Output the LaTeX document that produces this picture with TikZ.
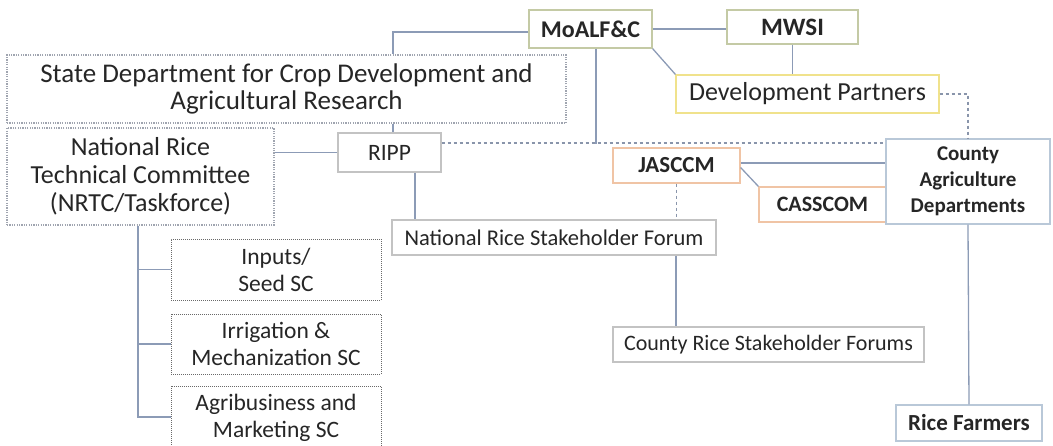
\documentclass[tikz,border=0pt]{standalone}
\usepackage{fontspec}
\setmainfont{Carlito}
\usetikzlibrary{calc}
\definecolor{lnc}{RGB}{140,155,182}
\definecolor{txt}{RGB}{38,38,38}
\definecolor{olv}{RGB}{196,202,165}
\definecolor{ylw}{RGB}{240,226,140}
\definecolor{org}{RGB}{240,196,165}
\definecolor{blu}{RGB}{185,200,216}
\definecolor{gry}{RGB}{195,195,195}
\definecolor{dgry}{RGB}{160,165,176}
\definecolor{sgry}{RGB}{105,105,105}
\tikzset{
  box/.style={draw, line width=1.2pt, inner sep=0pt, align=center, text=txt, fill=white},
  olvbox/.style={box, draw=olv},
  ylwbox/.style={box, draw=ylw},
  orgbox/.style={box, draw=org},
  blubox/.style={box, draw=blu},
  grybox/.style={box, draw=gry},
  dotbox/.style={box, draw=dgry, dash pattern=on 1.2pt off 1.2pt},
  scbox/.style={box, draw=sgry, line width=1pt, dash pattern=on 1pt off 1pt},
  conn/.style={draw=lnc, line width=1.3pt},
  dconn/.style={draw=lnc!80!gray, line width=1.3pt, dash pattern=on 3pt off 3pt},
}
\begin{document}
\begin{tikzpicture}[x=1pt,y=-1pt]
\useasboundingbox (0,0) rectangle (1053,445);
\coordinate (j1) at (596,144);
% nodes
\node[olvbox, minimum width=123pt, minimum height=38pt, font=\fontsize{24}{26}\selectfont\bfseries] (moalf) at (590.5,29) {MoALF\&C};
\node[olvbox, minimum width=131pt, minimum height=34pt, font=\fontsize{25}{26}\selectfont\bfseries] (mwsi) at (792.5,27) {MWSI};
\node[ylwbox, minimum width=263pt, minimum height=38pt, font=\fontsize{26}{28}\selectfont] (dp) at (807.5,94) {Development Partners};
\node[dotbox, minimum width=559pt, minimum height=68pt, font=\fontsize{27}{27}\selectfont] (sd) at (286.5,89) {State Department for Crop Development and\\Agricultural Research};
\node[dotbox, minimum width=267pt, minimum height=97pt, font=\fontsize{26}{28}\selectfont] (nrtc) at (140.5,176.5) {National Rice\\Technical Committee\\(NRTC/Taskforce)};
\node[grybox, minimum width=103pt, minimum height=39pt, font=\fontsize{23.5}{25}\selectfont] (ripp) at (389.5,152.5) {RIPP};
\node[orgbox, minimum width=127pt, minimum height=35pt, font=\fontsize{23}{25}\selectfont\bfseries] (jasccm) at (676.5,165.5) {JASCCM};
\node[orgbox, minimum width=127pt, minimum height=35pt, font=\fontsize{22}{25}\selectfont\bfseries] (cass) at (822.5,204.5) {CASSCOM};
\node[blubox, minimum width=164pt, minimum height=85pt, font=\fontsize{21}{26}\selectfont\bfseries] (cad) at (968,181.5) {County\\Agriculture\\Departments};
\node[grybox, minimum width=324pt, minimum height=35pt, font=\fontsize{22.5}{25}\selectfont] (nrsf) at (554,237.5) {National Rice Stakeholder Forum};
\node[scbox, minimum width=210pt, minimum height=61pt, font=\fontsize{23.5}{27}\selectfont] (s1) at (276,269.5) {Inputs/\\Seed SC};
\node[scbox, minimum width=210pt, minimum height=60pt, font=\fontsize{23.5}{27}\selectfont] (s2) at (276,344) {Irrigation \&\\Mechanization SC};
\node[scbox, minimum width=210pt, minimum height=64pt, font=\fontsize{23.5}{27}\selectfont] (s3) at (276,418) {Agribusiness and\\Marketing SC};
\node[grybox, minimum width=311pt, minimum height=35pt, font=\fontsize{22}{25}\selectfont] (crsf) at (768.5,344.5) {County Rice Stakeholder Forums};
\node[blubox, minimum width=146pt, minimum height=36pt, font=\fontsize{23}{25}\selectfont\bfseries] (rf) at (969,423) {Rice Farmers};
% connectors
\draw[conn] ([yshift=-3pt]moalf.west) -| (sd.north -| 393,0);
\draw[conn] (moalf.east) -- (moalf.east -| mwsi.west);
\draw[conn] (moalf.south east) -- (dp.north west);
\draw[conn] (mwsi.south) -- (mwsi.south |- dp.north);
\draw[dconn] (ripp.east |- 0,143) -- (cad.west |- 0,143);
\draw[conn] (moalf.south -| j1) -- (j1);
\draw[dconn] (dp.east) -| (cad.north);
\draw[conn] (sd.south -| 393,0) -- (ripp.north -| 393,0);
\draw[conn] (ripp.west) -- (ripp.west -| nrtc.east);
\draw[conn] (ripp.south -| 415,0) -- (nrsf.north -| 415,0);
\draw[conn] (jasccm.east |- 0,163) -- (cad.west |- 0,163);
\draw[conn] ([yshift=-2pt]jasccm.east) -- (cass.north west);
\draw[dconn] (jasccm.south) -- (jasccm.south |- nrsf.north);
\draw[conn] (nrsf.south -| 676,0) -- (crsf.north -| 676,0);
\draw[conn] (cad.south) -- (rf.north);
\coordinate (tb) at (138,417);
\draw[conn] (nrtc.south -| tb) -- (tb) -- (tb -| s3.west);
\draw[conn] (s1.west) -- (s1.west -| tb);
\draw[conn] (s2.west) -- (s2.west -| tb);
\end{tikzpicture}
\end{document}
